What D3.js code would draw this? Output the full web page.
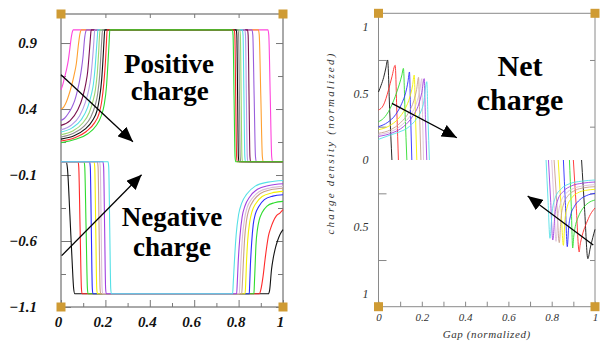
<!DOCTYPE html>
<html><head><meta charset="utf-8">
<script src="https://cdn.jsdelivr.net/npm/d3@7"></script>
<style>body{margin:0;background:#fff}svg{display:block}</style>
</head><body>
<svg id="c" width="602" height="345"></svg>
<script>
// ---------------- DATA ----------------
// Left panel: positive charge curves (x = gap, y = charge density)
const posMagenta = [[0,.546],[.008,.585],[.016,.64],[.025,.70],[.033,.77],[.040,.86],[.047,.95],[.052,.99],[.055,1],[.932,1],[.936,.96],[.9425,.5],[.949,.04],[.953,0],[1,0]];
const posOrange = [[0,.40],[.012,.415],[.024,.453],[.036,.51],[.046,.567],[.058,.65],[.069,.743],[.079,.895],[.086,.975],[.092,1],[.889,1],[.893,.96],[.900,.5],[.907,.04],[.911,0],[1,0]];
const posPurple = [[0,.314],[.016,.33],[.032,.364],[.048,.41],[.062,.465],[.074,.54],[.084,.617],[.092,.70],[.099,.794],[.107,.945],[.112,.99],[.115,1],[.860,1],[.864,.96],[.870,.5],[.876,.04],[.880,0],[1,0]];
const posMaroon = [[0,.276],[.041,.312],[.075,.392],[.098,.493],[.112,.595],[.120,.681],[.126,.797],[.131,.906],[.134,.971],[.136,1],[.840,1],[.843,.96],[.847,.5],[.851,.04],[.854,0],[1,0]];
const posLavender = [[0,.243],[.046,.277],[.084,.349],[.109,.447],[.125,.546],[.134,.637],[.141,.758],[.147,.886],[.150,.962],[.152,1],[.828,1],[.831,.96],[.835,.5],[.839,.04],[.842,0],[1,0]];
const posCyan = [[0,.226],[.050,.257],[.091,.319],[.120,.412],[.136,.505],[.146,.590],[.154,.721],[.160,.861],[.164,.954],[.166,1],[.817,1],[.820,.96],[.824,.5],[.828,.04],[.831,0],[1,0]];
const posLightGreen = [[0,.205],[.053,.233],[.097,.292],[.127,.372],[.144,.459],[.155,.547],[.164,.682],[.170,.841],[.173,.944],[.176,1],[.805,1],[.808,.96],[.8115,.5],[.815,.04],[.818,0],[1,0]];
const posGray = [[0,.188],[.056,.216],[.103,.269],[.135,.342],[.153,.423],[.165,.513],[.174,.651],[.180,.821],[.184,.935],[.187,1],[.797,1],[.800,.96],[.8035,.5],[.807,.04],[.810,0],[1,0]];
const posBlack = [[0,.172],[.059,.197],[.108,.247],[.142,.313],[.162,.387],[.173,.478],[.183,.619],[.190,.801],[.194,.925],[.197,1],[.789,1],[.792,.96],[.7955,.5],[.799,.04],[.802,0],[1,0]];
const posRed = [[0,.158],[.062,.183],[.114,.230],[.150,.293],[.171,.364],[.183,.453],[.193,.596],[.201,.781],[.205,.916],[.208,1],[.780,1],[.783,.96],[.787,.5],[.791,.04],[.794,0],[1,0]];
const posGreen = [[0,.145],[.066,.171],[.121,.213],[.158,.273],[.180,.342],[.194,.427],[.205,.573],[.212,.761],[.217,.915],[.220,1],[.772,1],[.775,.96],[.7795,.5],[.784,.04],[.787,0],[1,0]];

// Left panel: negative charge curves
const negBlack = [[0,0],[.024,0],[.029,-.05],[.040,-.4],[.050,-.75],[.057,-.96],[.062,-1],[.934,-1],[.940,-.97],[.948,-.82],[.956,-.73],[.964,-.665],[.975,-.60],[.986,-.552],[1,-.514]];
const negRed = [[0,0],[.077,0],[.080,-.04],[.086,-.5],[.092,-.96],[.095,-1],[.893,-1],[.900,-.97],[.910,-.87],[.919,-.742],[.927,-.64],[.934,-.565],[.945,-.50],[.956,-.452],[.970,-.41],[.986,-.388],[1,-.363]];
const negGreen = [[0,0],[.104,0],[.107,-.04],[.113,-.5],[.119,-.96],[.122,-1],[.869,-1],[.871,-.93],[.874,-.804],[.878,-.636],[.885,-.51],[.893,-.44],[.906,-.384],[.928,-.335],[.961,-.31],[1,-.30]];
const negBlue = [[0,0],[.129,0],[.132,-.04],[.1365,-.5],[.141,-.96],[.144,-1],[.848,-1],[.850,-.925],[.853,-.790],[.859,-.609],[.866,-.474],[.875,-.399],[.891,-.339],[.916,-.287],[.954,-.260],[1,-.249]];
const negYellow = [[0,0],[.149,0],[.152,-.04],[.1565,-.5],[.161,-.96],[.164,-1],[.829,-1],[.832,-.922],[.835,-.783],[.841,-.596],[.850,-.457],[.860,-.379],[.877,-.317],[.906,-.263],[.949,-.236],[1,-.224]];
const negRosy = [[0,0],[.164,0],[.167,-.04],[.1715,-.5],[.176,-.96],[.179,-1],[.814,-1],[.817,-.92],[.821,-.776],[.827,-.584],[.836,-.44],[.847,-.36],[.866,-.296],[.898,-.24],[.944,-.212],[1,-.20]];
const negThistle = [[0,0],[.174,0],[.177,-.04],[.181,-.5],[.185,-.96],[.188,-1],[.803,-1],[.806,-.919],[.810,-.772],[.817,-.577],[.827,-.43],[.838,-.349],[.858,-.284],[.892,-.227],[.941,-.198],[1,-.186]];
const negPurple = [[0,0],[.189,0],[.192,-.04],[.1965,-.5],[.201,-.96],[.204,-1],[.791,-1],[.794,-.917],[.798,-.766],[.806,-.566],[.816,-.416],[.829,-.333],[.850,-.266],[.885,-.208],[.937,-.179],[1,-.166]];
const negCyan = [[0,0],[.212,0],[.215,-.04],[.2195,-.5],[.224,-.96],[.227,-1],[.773,-1],[.776,-.914],[.781,-.759],[.789,-.553],[.800,-.399],[.814,-.313],[.837,-.244],[.875,-.184],[.932,-.154],[1,-.141]];

// Right panel: net charge, near-cathode part and near-anode part
const netBlackL = [[0,.51],[.012,.56],[.024,.62],[.034,.69],[.042,.75],[.052,.36],[.062,0]];
const netRedL = [[0,.375],[.023,.412],[.046,.524],[.062,.624],[.077,.71],[.085,.35],[.092,0]];
const netGreenL = [[0,.287],[.023,.312],[.054,.387],[.085,.512],[.108,.637],[.115,.687],[.123,.34],[.131,0]];
const netBlueL = [[0,.25],[.043,.283],[.079,.340],[.107,.422],[.126,.508],[.136,.586],[.143,.66],[.1485,.33],[.154,0]];
const netYellowL = [[0,.227],[.050,.256],[.091,.309],[.124,.387],[.145,.473],[.157,.555],[.165,.637],[.171,.32],[.177,0]];
const netRosyL = [[0,.20],[.056,.227],[.102,.280],[.139,.355],[.163,.444],[.176,.528],[.185,.62],[.1905,.31],[.196,0]];
const netThistleL = [[0,.19],[.060,.215],[.110,.266],[.150,.341],[.176,.429],[.190,.513],[.200,.61],[.204,.30],[.208,0]];
const netPurpleL = [[0,.177],[.063,.203],[.116,.251],[.158,.329],[.186,.419],[.200,.506],[.211,.61],[.217,.30],[.223,0]];
const netCyanL = [[0,.155],[.054,.187],[.095,.21],[.131,.237],[.177,.312],[.195,.36],[.208,.425],[.223,.587],[.229,.29],[.235,0]];

const netCyanR = [[.774,0],[.783,-.30],[.792,-.587],[.802,-.39],[.817,-.281],[.844,-.216],[.886,-.176],[.938,-.159],[1,-.15]];
const netPurpleR = [[.785,0],[.795,-.30],[.805,-.60],[.815,-.409],[.828,-.30],[.854,-.235],[.893,-.193],[.942,-.174],[1,-.165]];
const netThistleR = [[.800,0],[.810,-.30],[.820,-.61],[.829,-.423],[.842,-.317],[.865,-.253],[.901,-.213],[.946,-.194],[1,-.185]];
const netRosyR = [[.811,0],[.823,-.31],[.835,-.62],[.843,-.435],[.855,-.33],[.876,-.267],[.909,-.227],[.950,-.208],[1,-.20]];
const netYellowR = [[.830,0],[.842,-.32],[.854,-.64],[.861,-.455],[.872,-.35],[.891,-.287],[.920,-.247],[.956,-.228],[1,-.22]];
const netBlueR = [[.854,0],[.863,-.32],[.872,-.65],[.878,-.51],[.887,-.418],[.904,-.35],[.930,-.298],[.962,-.266],[1,-.25]];
const netGreenR = [[.882,0],[.890,-.33],[.897,-.66],[.902,-.57],[.909,-.498],[.923,-.426],[.943,-.365],[.969,-.322],[1,-.30]];
const netRedR = [[.900,0],[.913,-.34],[.927,-.69],[.931,-.64],[.936,-.598],[.945,-.542],[.960,-.476],[.978,-.41],[1,-.36]];
const netBlackR = [[.938,0],[.952,-.37],[.967,-.74],[.978,-.66],[.990,-.58],[1,-.52]];

// Tick values / labels
const leftYTicks = [0.9, 0.4, -0.1, -0.6, -1.1];
const leftYMinor = [0.65, 0.15, -0.35, -0.85];
const xTicks = [0, 0.2, 0.4, 0.6, 0.8, 1];
const xMinor = [0.1, 0.3, 0.5, 0.7, 0.9];
const rightYTicks = [1, 0.5, 0, -0.5, -1];
const rightYTickLabels = ["1", "0.5", "0", "0.5", "1"];
const rightYMarks = [0.75, 0.25, -0.25, -0.75];

// Annotation arrows (data coordinates)
const arrowsLeft = [{from: [0, .66], to: [.324, .152]}, {from: [.003, -.711], to: [.363, -.098]}];
const arrowsRight = [{from: [.062, .425], to: [.362, .167]}, {from: [.992, -.637], to: [.689, -.27]}];

// Colours
const C = {magenta:"#ff45dc", orange:"#ffa030", purple:"#9a5fdc", maroon:"#7a1050", lavender:"#b49ae8",
  cyan:"#55e0e6", lightgreen:"#9ed672", gray:"#8c8c8c", black:"#111111", red:"#ff2a2a", green:"#2edc2e",
  blue:"#2a2aff", yellow:"#f4f000", rosy:"#c8a08c", thistle:"#dcbcd8", npurple:"#a040e0"};

const positiveSeries = [
  {c:C.magenta, d:posMagenta},{c:C.orange, d:posOrange},{c:C.purple, d:posPurple},{c:C.maroon, d:posMaroon},
  {c:C.lavender, d:posLavender},{c:C.cyan, d:posCyan},{c:C.lightgreen, d:posLightGreen},{c:C.gray, d:posGray},
  {c:C.black, d:posBlack},{c:C.red, d:posRed},{c:C.green, d:posGreen}];
const negativeSeries = [
  {c:C.black, d:negBlack},{c:C.red, d:negRed},{c:C.green, d:negGreen},{c:C.blue, d:negBlue},{c:C.yellow, d:negYellow},
  {c:C.rosy, d:negRosy},{c:C.thistle, d:negThistle},{c:C.npurple, d:negPurple},{c:C.cyan, d:negCyan}];
const netSeries = [
  {c:C.black, d:[netBlackL, netBlackR]},{c:C.red, d:[netRedL, netRedR]},{c:C.green, d:[netGreenL, netGreenR]},
  {c:C.blue, d:[netBlueL, netBlueR]},{c:C.yellow, d:[netYellowL, netYellowR]},{c:C.rosy, d:[netRosyL, netRosyR]},
  {c:C.thistle, d:[netThistleL, netThistleR]},{c:C.npurple, d:[netPurpleL, netPurpleR]},{c:C.cyan, d:[netCyanL, netCyanR]}];

// ---------------- DRAW ----------------
const svg = d3.select("#c");
const serif = "Liberation Serif";
const gold = "#cf9b34";

const defs = svg.append("defs");
defs.append("marker").attr("id","ah").attr("viewBox","0 0 10 10").attr("refX",10).attr("refY",5)
  .attr("markerWidth",15).attr("markerHeight",13).attr("markerUnits","userSpaceOnUse")
  .attr("preserveAspectRatio","none").attr("orient","auto")
  .append("path").attr("d","M0,0L10,5L0,10Z").attr("fill","#000");

function panel(o) {
  const g = svg.append("g");
  const x = d3.scaleLinear().domain([0,1]).range([o.x0, o.x1]);
  const y = d3.scaleLinear().domain(o.yDom).range([o.y1, o.y0]);
  g.append("rect").attr("x",o.x0).attr("y",o.y0).attr("width",o.x1-o.x0).attr("height",o.y1-o.y0)
    .attr("fill","none").attr("stroke",o.frame).attr("stroke-width",1);
  return {g, x, y};
}

function styleAxis(sel, col) {
  sel.select(".domain").remove();
  sel.selectAll(".tick line").attr("stroke", col);
}

function setFont(sel, size, weight, fill) {
  sel.attr("font-family", serif).attr("font-size", size);
  sel.selectAll("text").attr("font-family", serif).attr("font-style","italic")
    .attr("font-weight", weight).attr("font-size", size).attr("fill", fill);
}

// ---- Left panel ----
const L = panel({x0:61, x1:283, y0:14, y1:307, yDom:[-1.1,1.12], frame:"#555"});
{
  const {g, x, y} = L;
  const ay = g.append("g").attr("transform","translate(61,0)")
    .call(d3.axisLeft(y).tickValues(leftYTicks).tickSize(-10).tickPadding(24)
      .tickFormat(d => d3.format(".1f")(d).replace("-", "\u2212")));
  styleAxis(ay, "#777");
  setFont(ay, 15, "bold", "#111");
  ay.selectAll(".tick text").attr("x",-24);
  styleAxis(g.append("g").attr("transform","translate(61,0)").call(d3.axisLeft(y).tickValues(leftYMinor).tickSize(-5).tickFormat("")), "#777");
  styleAxis(g.append("g").attr("transform","translate(283,0)").call(d3.axisRight(y).tickValues(leftYTicks).tickSize(-7).tickFormat("")), "#777");
  styleAxis(g.append("g").attr("transform","translate(283,0)").call(d3.axisRight(y).tickValues(leftYMinor).tickSize(-5).tickFormat("")), "#777");
  const ax = g.append("g").attr("transform","translate(0,307)")
    .call(d3.axisBottom(x).tickValues(xTicks).tickSize(-7).tickPadding(9).tickFormat(d => d === 0 || d === 1 ? String(d) : d3.format(".1f")(d)));
  styleAxis(ax, "#777");
  setFont(ax, 15, "bold", "#111");
  ax.selectAll("text").attr("dx",-3);
  styleAxis(g.append("g").attr("transform","translate(0,307)").call(d3.axisBottom(x).tickValues(xMinor).tickSize(-4).tickFormat("")), "#777");
  styleAxis(g.append("g").attr("transform","translate(0,14)").call(d3.axisTop(x).tickValues(xTicks).tickSize(-4).tickFormat("")), "#777");

  const line = d3.line().x(d => x(d[0])).y(d => y(d[1])).curve(d3.curveMonotoneX);
  const cg = g.append("g").attr("fill","none").attr("stroke-width",1.1);
  positiveSeries.forEach(s => cg.append("path").attr("d", line(s.d)).attr("stroke", s.c));
  negativeSeries.forEach(s => cg.append("path").attr("d", line(s.d)).attr("stroke", s.c));

  arrowsLeft.forEach(a => g.append("line").attr("x1",x(a.from[0])).attr("y1",y(a.from[1]))
    .attr("x2",x(a.to[0])).attr("y2",y(a.to[1])).attr("stroke","#000").attr("stroke-width",1.3).attr("marker-end","url(#ah)"));

  const tg = g.append("g").attr("text-anchor","middle").attr("fill","#000")
    .attr("font-family", serif).attr("font-weight","bold").attr("font-size",27);
  tg.append("text").attr("x",x(.487)).attr("y",y(.675)).text("Positive");
  tg.append("text").attr("x",x(.49)).attr("y",y(.468)).text("charge");
  tg.append("text").attr("x",x(.50)).attr("y",y(-.49)).text("Negative");
  tg.append("text").attr("x",x(.50)).attr("y",y(-.717)).text("charge");

  [[0,1.12],[1,1.12],[0,-1.1],[1,-1.1]].forEach(p => g.append("rect")
    .attr("x",x(p[0])-4.5).attr("y",y(p[1])-4.5).attr("width",9).attr("height",9).attr("fill",gold));
}

// ---- Right panel ----
const R = panel({x0:378.5, x1:595, y0:13.3, y1:306.7, yDom:[-1.1,1.1], frame:"#8a8a8a"});
{
  const {g, x, y} = R;
  const ay = g.append("g").attr("transform","translate(378.5,0)")
    .call(d3.axisLeft(y).tickValues(rightYTicks).tickSize(0).tickPadding(10).tickFormat((d,i) => rightYTickLabels[i]));
  styleAxis(ay, "#888");
  setFont(ay, 12, "normal", "#333");
  styleAxis(g.append("g").attr("transform","translate(378.5,0)").call(d3.axisLeft(y).tickValues(rightYMarks).tickSize(-8).tickFormat("")), "#888");
  styleAxis(g.append("g").attr("transform","translate(595,0)").call(d3.axisRight(y).tickValues(rightYMarks).tickSize(-5).tickFormat("")), "#888");
  const ax = g.append("g").attr("transform","translate(0,306.7)")
    .call(d3.axisBottom(x).tickValues(xTicks).tickSize(-5).tickPadding(7).tickFormat(d => d === 0 || d === 1 ? String(d) : d3.format(".1f")(d)));
  styleAxis(ax, "#888");
  setFont(ax, 11, "normal", "#333");
  styleAxis(g.append("g").attr("transform","translate(0,306.7)").call(d3.axisBottom(x).tickValues(xMinor).tickSize(-5).tickFormat("")), "#888");

  const line = d3.line().x(d => x(d[0])).y(d => y(d[1])).curve(d3.curveMonotoneX);
  const cg = g.append("g").attr("fill","none").attr("stroke-width",0.9);
  netSeries.forEach(s => s.d.forEach(part => cg.append("path").attr("d", line(part)).attr("stroke", s.c)));

  arrowsRight.forEach(a => g.append("line").attr("x1",x(a.from[0])).attr("y1",y(a.from[1]))
    .attr("x2",x(a.to[0])).attr("y2",y(a.to[1])).attr("stroke","#000").attr("stroke-width",1.3).attr("marker-end","url(#ah)"));

  const tg = g.append("g").attr("text-anchor","middle").attr("fill","#000")
    .attr("font-family", serif).attr("font-weight","bold").attr("font-size",30);
  tg.append("text").attr("x",x(.654)).attr("y",y(.629)).text("Net");
  tg.append("text").attr("x",x(.654)).attr("y",y(.375)).text("charge");

  g.append("text").attr("transform","translate(334,143) rotate(-90)").attr("text-anchor","middle")
    .attr("font-family",serif).attr("font-style","italic").attr("font-size",11).attr("fill","#333")
    .attr("letter-spacing",2.2).text("charge density (normalized)");
  g.append("text").attr("x",x(.5)).attr("y",338).attr("text-anchor","middle")
    .attr("font-family",serif).attr("font-style","italic").attr("font-size",11).attr("fill","#333")
    .attr("letter-spacing",0.6).text("Gap (normalized)");

  [[0,1.1],[1,1.1],[0,-1.1],[1,-1.1]].forEach(p => g.append("rect")
    .attr("x",x(p[0])-4.5).attr("y",y(p[1])-4.5).attr("width",9).attr("height",9).attr("fill",gold));
}
</script>
</body></html>
